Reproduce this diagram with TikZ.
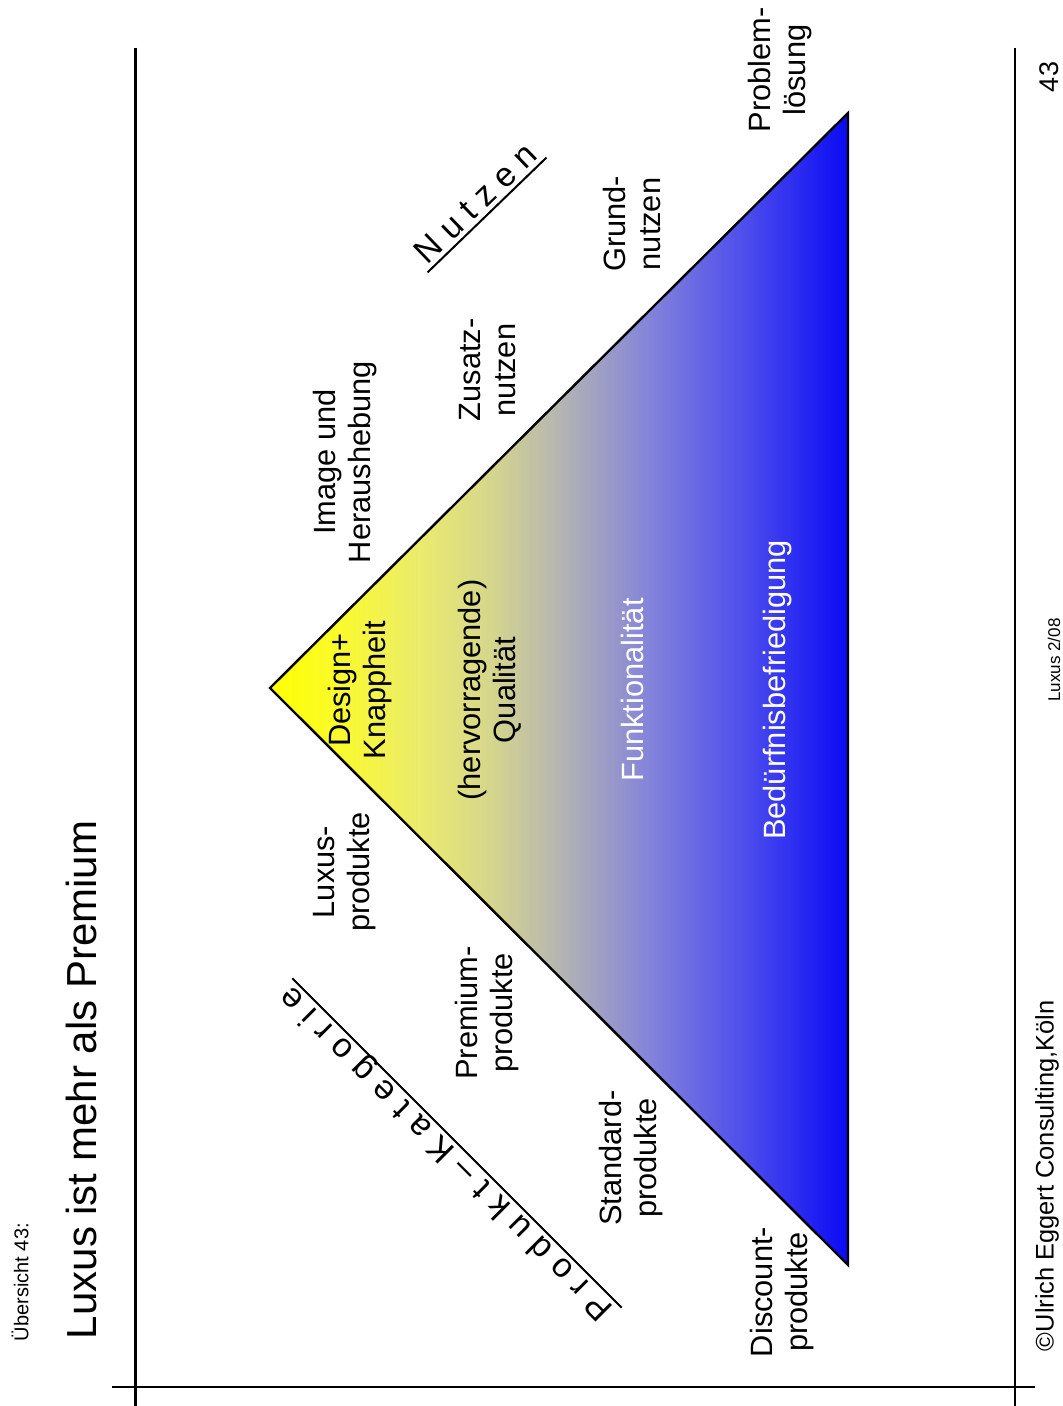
\documentclass[tikz,border=0pt]{standalone}
\usepackage{fontspec}
\setmainfont{Liberation Sans}
\usetikzlibrary{positioning}

% yellow to blue across the pyramid, grey in the middle
\pgfdeclarehorizontalshading{pyramid}{100bp}{%
  rgb(0bp)=(1,1,0); rgb(25bp)=(1,1,0);
  rgb(31bp)=(0.98,0.98,0.18);
  rgb(38bp)=(0.92,0.92,0.43);
  rgb(44bp)=(0.84,0.84,0.55);
  rgb(50bp)=(0.71,0.71,0.70);
  rgb(58bp)=(0.51,0.51,0.86);
  rgb(66.5bp)=(0.29,0.29,0.93);
  rgb(75bp)=(0.04,0.04,0.96); rgb(100bp)=(0.04,0.04,0.96)}

\begin{document}
\begin{tikzpicture}
  [
  x=0.5pt, y=-0.5pt, line width=1pt,
  tag/.style={rotate=90, align=center, inner sep=0pt, font=\fontsize{15.4}{17.5}\selectfont},
  inside/.style={tag, text=white},
  axisname/.style={inner sep=2pt, text depth=0pt, font=\fontsize{17}{20}\selectfont\addfontfeature{LetterSpace=28}},
  footer/.style={rotate=90, inner sep=0pt}
  ]

\useasboundingbox (0,0) rectangle (1063,1406);

% header and frame
\node[footer, anchor=west, font=\fontsize{10}{12}\selectfont] (sheet) at (20,1342) {Übersicht 43:};
\node[footer, anchor=west, font=\fontsize{21}{25}\selectfont] (title) at (81,1340) {Luxus ist mehr als Premium};

\draw[line width=1.5pt] (135,48) -- (135,1406);
\draw (1015,48) -- (1015,1406);
\draw (112,1387) -- (1035,1387);

% pyramid
\coordinate (apex) at (270,688);
\coordinate (tip) at (848,113);
\coordinate (base) at (848,1265);
\shadedraw[shading=pyramid, draw=black, line width=1.2pt]
  (apex) -- (tip) -- (base) -- cycle;

% product categories
\node[tag] (luxus) at (345,872) {Luxus-\\produkte};
\node[tag] (premium) at (487,1013) {Premium-\\produkte};
\node[tag] (standard) at (631,1158) {Standard-\\produkte};
\node[tag] (discount) at (782,1292) {Discount-\\produkte};

% benefits
\node[tag] (image) at (345,462) {Image und\\Heraushebung};
\node[tag] (zusatz) at (488,370) {Zusatz-\\nutzen};
\node[tag] (grund) at (632,224) {Grund-\\nutzen};
\node[tag] (problem) at (780,70) {Problem-\\lösung};

% layers inside
\node[tag] (design) at (360,690) {Design+\\Knappheit};
\node[tag] (quali) at (490,690) {(hervorragende)\\Qualität};
\node[inside] (funktion) at (632,690) {Funktionalität};
\node[inside] (bedarf) at (778,690) {Bedürfnisbefriedigung};

% axis names
\node[axisname, rotate=44, anchor=south] (nutzen) at (487,215) {Nutzen};
\draw (nutzen.south west) -- (nutzen.south east);
\node[axisname, rotate=135, anchor=south, font=\fontsize{17}{20}\selectfont\addfontfeature{LetterSpace=32}] (kategorie) at (457,1143) {Produkt–Kategorie};
\draw (kategorie.south west) -- (kategorie.south east);

% footer
\node[footer, anchor=west, font=\fontsize{12.7}{15}\selectfont] (firm) at (1047,1352) {©Ulrich Eggert Consulting,Köln};
\node[footer, font=\fontsize{8.5}{10}\selectfont] (issue) at (1054,660) {Luxus 2/08};
\node[footer, font=\fontsize{13.5}{16}\selectfont] (page) at (1049,77) {43};

\end{tikzpicture}
\end{document}
